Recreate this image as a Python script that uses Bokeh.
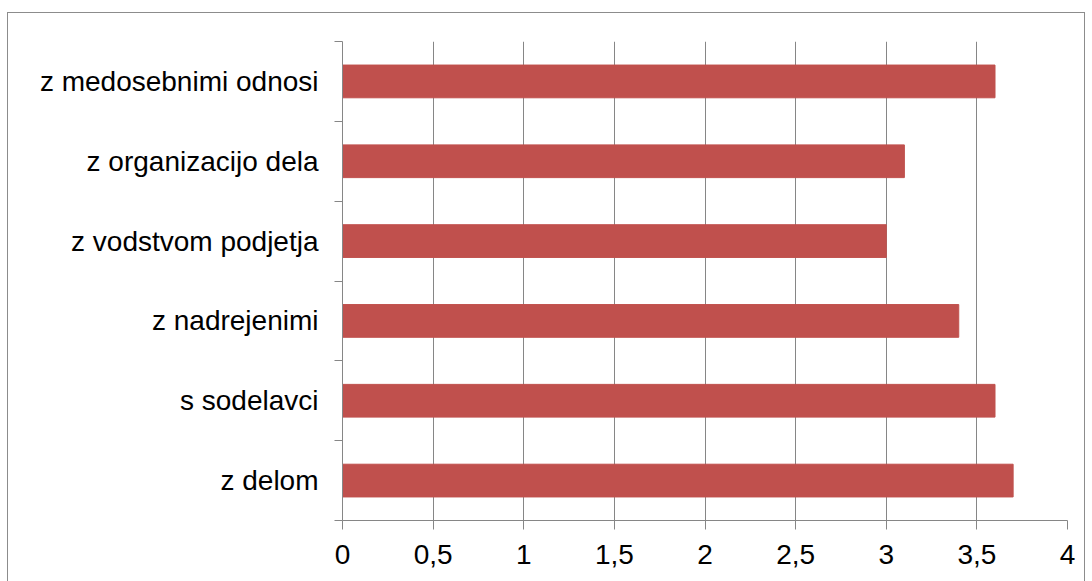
from bokeh.plotting import figure
from bokeh.models import FixedTicker, Range1d, ColumnDataSource
from bokeh.embed import file_html
from bokeh.resources import INLINE

categories = ["z delom", "s sodelavci", "z nadrejenimi", "z vodstvom podjetja",
              "z organizacijo dela", "z medosebnimi odnosi"]
values = [3.7, 3.6, 3.4, 3.0, 3.1, 3.6]
x_ticks = [0, 0.5, 1, 1.5, 2, 2.5, 3, 3.5, 4]
x_tick_labels = ["0", "0,5", "1", "1,5", "2", "2,5", "3", "3,5", "4"]

pos = [i + 0.5 for i in range(len(categories))]
src = ColumnDataSource(dict(y=pos, v=values))

GRID = "#868686"
FONT = "Liberation Sans"

p = figure(width=1078, height=580, output_backend="svg", toolbar_location=None,
           x_range=Range1d(0, 4), y_range=Range1d(0, len(categories)),
           min_border_left=334, min_border_right=19, min_border_top=28,
           min_border_bottom=73)
p.margin = (12, 0, 0, 7)
p.styles = {"border": "1px solid #8c8c8c"}
p.outline_line_color = None
p.background_fill_color = "white"

p.hbar(y="y", right="v", left=0, height=0.41, source=src, color="#C0504D")

# x axis
p.xaxis.ticker = FixedTicker(ticks=x_ticks)
p.xaxis.major_label_overrides = {t: l for t, l in zip(x_ticks, x_tick_labels)}
p.xaxis.major_tick_out = 9
p.xaxis.major_tick_in = 0
p.xaxis.minor_tick_out = 0
p.xaxis.minor_tick_in = 0
p.xaxis.axis_line_color = GRID
p.xaxis.major_tick_line_color = GRID
p.xaxis.major_label_text_font = FONT
p.xaxis.major_label_text_font_size = "28px"
p.xaxis.major_label_text_color = "black"
p.xaxis.major_label_standoff = 15

# y axis
p.yaxis.ticker = FixedTicker(ticks=pos, minor_ticks=list(range(len(categories) + 1)))
p.yaxis.major_label_overrides = {t: c for t, c in zip(pos, categories)}
p.yaxis.major_tick_out = 0
p.yaxis.major_tick_in = 0
p.yaxis.minor_tick_out = 8
p.yaxis.minor_tick_in = 0
p.yaxis.minor_tick_line_color = GRID
p.yaxis.axis_line_color = GRID
p.yaxis.major_label_text_font = FONT
p.yaxis.major_label_text_font_size = "28px"
p.yaxis.major_label_text_color = "black"
p.yaxis.major_label_standoff = 16

p.xgrid.ticker = FixedTicker(ticks=x_ticks)
p.xgrid.grid_line_color = GRID
p.ygrid.grid_line_color = None

open("out.html", "w").write(file_html(p, INLINE))
